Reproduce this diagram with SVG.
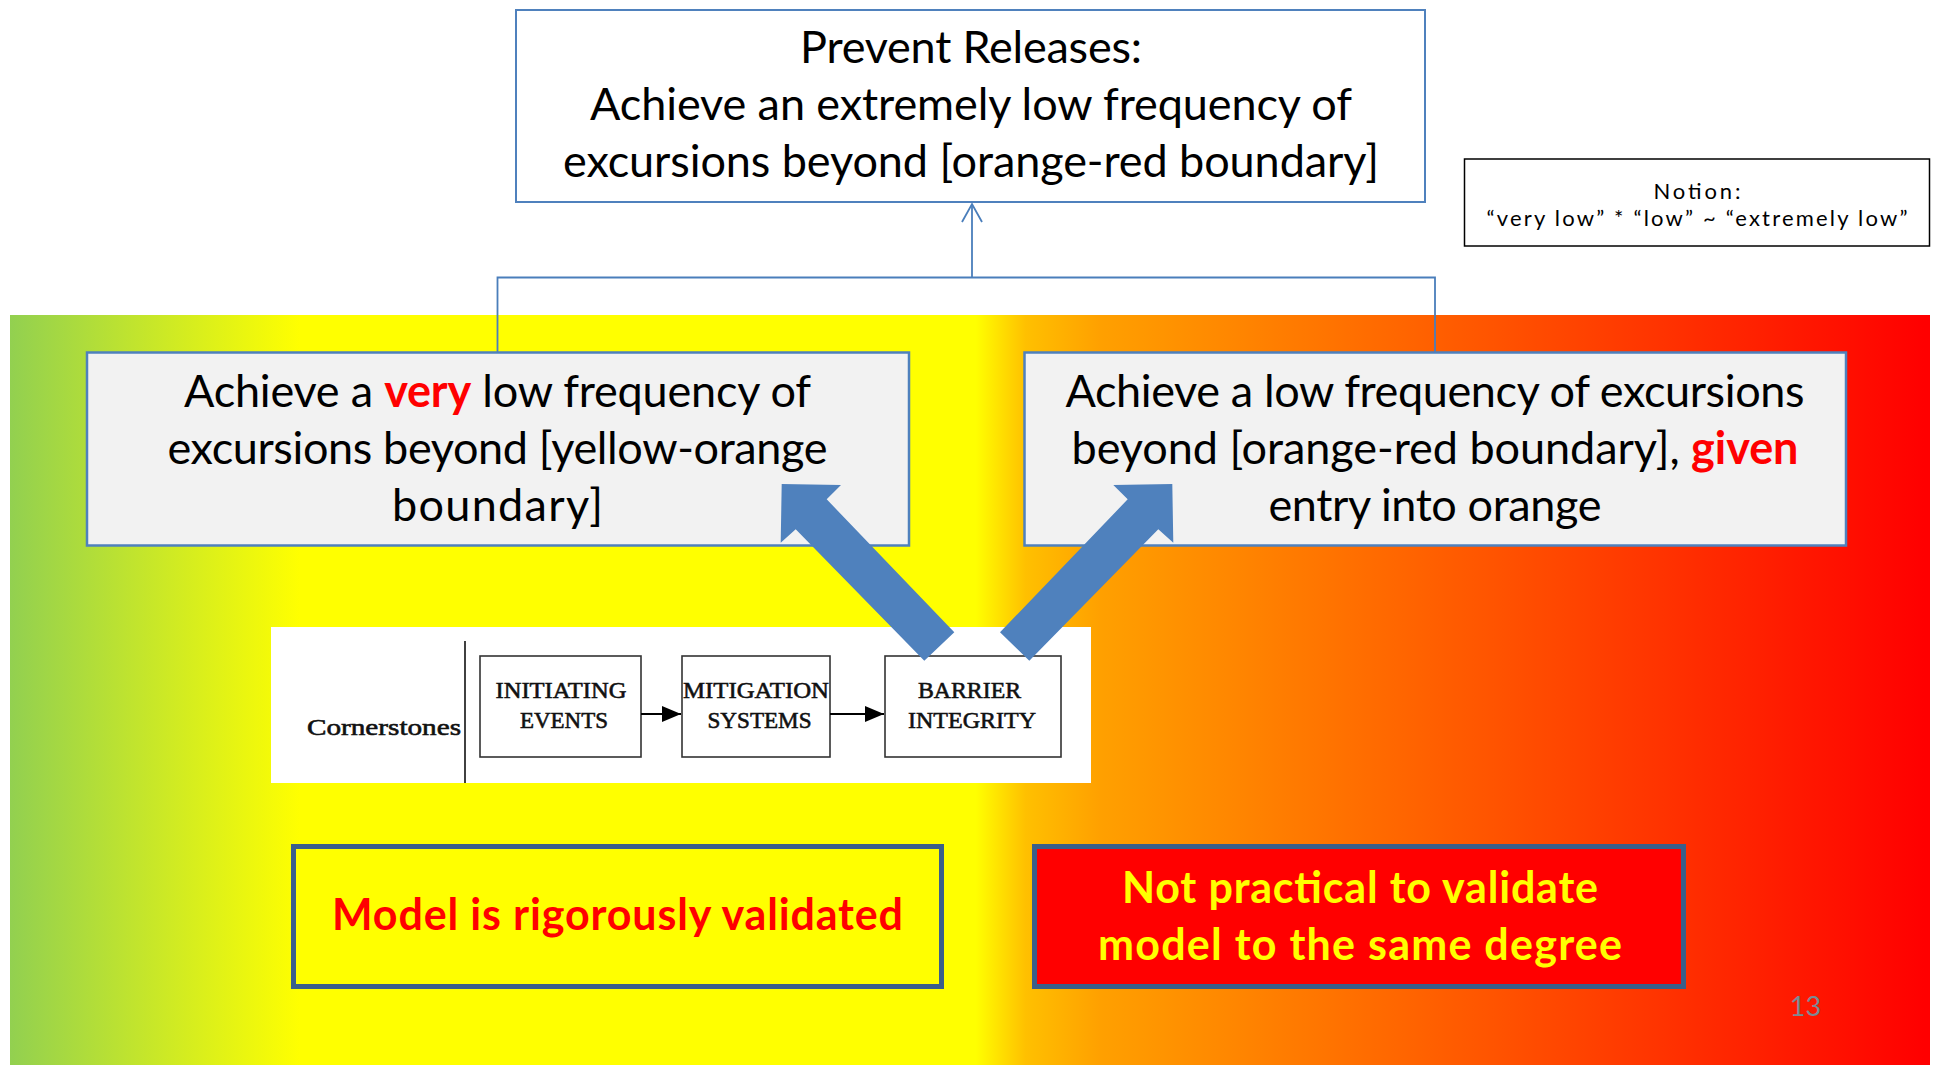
<svg xmlns="http://www.w3.org/2000/svg" width="1939" height="1065" viewBox="0 0 1939 1065">
<defs>
<linearGradient id="band" gradientUnits="userSpaceOnUse" x1="10" y1="0" x2="1930" y2="0">
<stop offset="0" stop-color="#92D050"/>
<stop offset="0.151" stop-color="#FFFF00"/>
<stop offset="0.503" stop-color="#FFFF00"/>
<stop offset="0.529" stop-color="#FFC000"/>
<stop offset="0.568" stop-color="#FFA000"/>
<stop offset="0.997" stop-color="#FF0000"/>
<stop offset="1" stop-color="#FF0000"/>
</linearGradient>
<marker id="openArrow" markerUnits="userSpaceOnUse" markerWidth="40" markerHeight="40" viewBox="-20 -20 40 40" refX="0" refY="0" orient="auto">
<path d="M-18,-10 L0,0 L-18,10" fill="none" stroke="#4A7EBB" stroke-width="1.8"/>
</marker>
<marker id="blackHead" markerUnits="userSpaceOnUse" markerWidth="30" markerHeight="30" viewBox="-20 -10 30 20" refX="0" refY="0" orient="auto">
<path d="M-19,-8 L0,0 L-19,8 Z" fill="#000"/>
</marker>
</defs>
<style>
.big{font-family:Lato,"Liberation Sans",sans-serif;font-size:45px;fill:#000;text-anchor:middle}
.red{fill:#FF0000;font-weight:bold}
.goal{fill:#F2F2F2;stroke:#4F81BD;stroke-width:2.5}
.note{font-family:Lato,"Liberation Sans",sans-serif;font-size:22px;fill:#000;text-anchor:middle}
.bold{font-family:Lato,"Liberation Sans",sans-serif;font-size:43px;font-weight:bold;text-anchor:middle}
.serif{font-family:"Liberation Serif","Times New Roman",serif;font-size:24px;fill:#111;stroke:#111;stroke-width:0.6;text-anchor:middle}
.cbox{fill:#fff;stroke:#333;stroke-width:1.6}
.conn{fill:none;stroke:#4A7EBB;stroke-width:1.8}
.fat{fill:#4F81BD}
</style>

<rect x="10" y="315" width="1920" height="750" fill="url(#band)"/>

<g id="top-goal">
<rect x="516" y="10" width="909" height="192" fill="#fff" stroke="#4F81BD" stroke-width="2"/>
<text class="big" x="971" y="63" textLength="342">Prevent Releases:</text>
<text class="big" x="971" y="120" textLength="762">Achieve an extremely low frequency of</text>
<text class="big" x="971" y="177" textLength="816">excursions beyond [orange-red boundary]</text>
</g>

<g id="notion">
<rect x="1464.5" y="159" width="465" height="87" fill="#fff" stroke="#000" stroke-width="1.5"/>
<text class="note" x="1697" y="199" textLength="87">Notion:</text>
<text class="note" x="1697" y="226" textLength="421">“very low” * “low” ~ “extremely low”</text>
</g>

<g id="connectors">
<path class="conn" d="M497.5,352 V277.5 H1435 V352"/>
<path class="conn" d="M972,277.5 V204" marker-end="url(#openArrow)"/>
</g>

<g id="left-goal">
<rect class="goal" x="87" y="352.5" width="822" height="193"/>
<text class="big" x="497.5" y="407" textLength="627">Achieve a <tspan class="red">very</tspan> low frequency of</text>
<text class="big" x="497.5" y="464" textLength="660">excursions beyond [yellow-orange</text>
<text class="big" x="497.5" y="521" textLength="211">boundary]</text>
</g>

<g id="right-goal">
<rect class="goal" x="1024.5" y="352.5" width="821.5" height="193"/>
<text class="big" x="1435" y="407" textLength="739">Achieve a low frequency of excursions</text>
<text class="big" x="1435" y="464" textLength="727">beyond [orange-red boundary], <tspan class="red">given</tspan></text>
<text class="big" x="1435" y="521" textLength="333">entry into orange</text>
</g>

<g id="cornerstones">
<rect x="271" y="627" width="820" height="156" fill="#fff"/>
<line x1="465" y1="641" x2="465" y2="783" stroke="#111" stroke-width="1.6"/>
<text class="serif" x="384" y="735" font-size="33" textLength="154" lengthAdjust="spacingAndGlyphs">Cornerstones</text>
<g id="initiating-events">
<rect class="cbox" x="480" y="656" width="161" height="101"/>
<text class="serif" x="561" y="698" textLength="131" lengthAdjust="spacingAndGlyphs">INITIATING</text>
<text class="serif" x="564" y="728" textLength="88" lengthAdjust="spacingAndGlyphs">EVENTS</text>
</g>
<g id="mitigation-systems">
<rect class="cbox" x="682" y="656" width="148" height="101"/>
<text class="serif" x="756" y="698" textLength="146" lengthAdjust="spacingAndGlyphs">MITIGATION</text>
<text class="serif" x="759.5" y="728" textLength="104" lengthAdjust="spacingAndGlyphs">SYSTEMS</text>
</g>
<g id="barrier-integrity">
<rect class="cbox" x="885" y="656" width="176" height="101"/>
<text class="serif" x="969.5" y="698" textLength="103" lengthAdjust="spacingAndGlyphs">BARRIER</text>
<text class="serif" x="972" y="728" textLength="128" lengthAdjust="spacingAndGlyphs">INTEGRITY</text>
</g>
<g id="cornerstone-arrows">
<line x1="641" y1="714" x2="681" y2="714" stroke="#000" stroke-width="1.8" marker-end="url(#blackHead)"/>
<line x1="830" y1="714" x2="884" y2="714" stroke="#000" stroke-width="1.8" marker-end="url(#blackHead)"/>
</g>
</g>

<g id="block-arrows">
<polygon class="fat" points="781.7,484 841,485 826.7,499.3 954.3,632.3 924.3,660.7 795.7,529.3 780.7,542.7"/>
<polygon class="fat" points="1172.3,484 1113.3,485 1127.7,499.3 1000,632.3 1029.3,660.7 1158.3,529.3 1173.3,542.7"/>
</g>

<g id="validated">
<rect x="293.5" y="846.5" width="648" height="140" fill="#FFFF00" stroke="#3B5F8A" stroke-width="5"/>
<text class="bold" x="617.5" y="930" fill="#FF0000" textLength="571">Model is rigorously validated</text>
</g>

<g id="not-practical">
<rect x="1034.5" y="846.5" width="649" height="140" fill="#FF0000" stroke="#3B5F8A" stroke-width="5"/>
<text class="bold" x="1360" y="903" fill="#FFFF00" textLength="476">Not practical to validate</text>
<text class="bold" x="1360" y="960" fill="#FFFF00" textLength="524">model to the same degree</text>
</g>

<text x="1805.5" y="1016" font-family="Lato,'Liberation Sans',sans-serif" font-size="27" fill="#7A8A94" text-anchor="middle">13</text>
</svg>
